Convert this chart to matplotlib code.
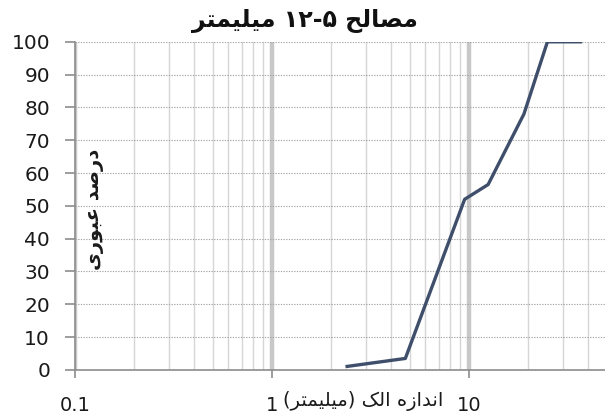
# -*- coding: utf-8 -*-
"""
Grading curve for 5-12 mm aggregate (sieve analysis).
"""

import matplotlib
matplotlib.use("Agg")
import matplotlib.pyplot as plt
from matplotlib.ticker import LogLocator, NullFormatter, FixedLocator

# Sieve sizes (mm) and passing percentage.
sieve_mm = [2.36, 4.75, 9.5, 12.5, 19, 25, 37.5]
passing = [1, 3.5, 52, 56.5, 78, 100, 100]

x_ticks = [0.1, 1, 10]
x_tick_labels = ["0.1", "1", "10"]
y_ticks = [0, 10, 20, 30, 40, 50, 60, 70, 80, 90, 100]

title_txt = "مصالح ۵-۱۲ میلیمتر"
xlabel_txt = "اندازه الک (میلیمتر)"
ylabel_txt = "درصد عبوری"

# matplotlib 3.10 does no arabic shaping, so do it by hand:
# pick presentation forms (isolated, final, initial, medial).
FORMS = {
    "ا": (0xFE8D, 0xFE8E, 0xFE8D, 0xFE8E),
    "ب": (0xFE8F, 0xFE90, 0xFE91, 0xFE92),
    "ت": (0xFE95, 0xFE96, 0xFE97, 0xFE98),
    "ح": (0xFEA1, 0xFEA2, 0xFEA3, 0xFEA4),
    "د": (0xFEA9, 0xFEAA, 0xFEA9, 0xFEAA),
    "ر": (0xFEAD, 0xFEAE, 0xFEAD, 0xFEAE),
    "ز": (0xFEAF, 0xFEB0, 0xFEAF, 0xFEB0),
    "ص": (0xFEB9, 0xFEBA, 0xFEBB, 0xFEBC),
    "ع": (0xFEC9, 0xFECA, 0xFECB, 0xFECC),
    "ل": (0xFEDD, 0xFEDE, 0xFEDF, 0xFEE0),
    "م": (0xFEE1, 0xFEE2, 0xFEE3, 0xFEE4),
    "ن": (0xFEE5, 0xFEE6, 0xFEE7, 0xFEE8),
    "ه": (0xFEE9, 0xFEEA, 0xFEEB, 0xFEEC),
    "و": (0xFEED, 0xFEEE, 0xFEED, 0xFEEE),
    "ی": (0xFEEF, 0xFEF0, 0xFEF3, 0xFEF4),
    "ک": (0xFB8E, 0xFB8F, 0xFB90, 0xFB91),
}
RIGHT_ONLY = set("اآأإدذرزژو")
DIGITS = set("0123456789۰۱۲۳۴۵۶۷۸۹")
MIRROR = {"(": ")", ")": "("}


def rtl(text):
    """Shape a persian string and return it in visual (left to right) order."""
    out = []
    for i, ch in enumerate(text):
        if ch not in FORMS:
            out.append(MIRROR.get(ch, ch))
            continue
        prev = text[i - 1] if i > 0 else ""
        nxt = text[i + 1] if i + 1 < len(text) else ""
        join_prev = prev in FORMS and prev not in RIGHT_ONLY
        join_next = nxt in FORMS and ch not in RIGHT_ONLY
        iso, fin, ini, med = FORMS[ch]
        if join_prev and join_next:
            code = med
        elif join_prev:
            code = fin
        elif join_next:
            code = ini
        else:
            code = iso
        out.append(chr(code))
    out = out[::-1]
    # Numbers keep their left to right order.
    res, run = [], []
    for ch in out:
        if ch in DIGITS:
            run.append(ch)
        else:
            res.extend(run[::-1])
            run = []
            res.append(ch)
    res.extend(run[::-1])
    return "".join(res)


plt.rcParams["font.family"] = ["DejaVu Sans"]

fig = plt.figure(figsize=(6.05, 4.18), dpi=100)
ax = fig.add_axes([0.124, 0.115, 0.876, 0.785])

ax.plot(sieve_mm, passing, color="#3f4f6b", linewidth=2.4,
        solid_capstyle="butt", zorder=5)

ax.set_xscale("log")
ax.set_xlim(0.1, 49)
ax.set_ylim(0, 100)

# Gridlines: thick grey on decades, thin on the minor ones, dotted horizontal.
ax.xaxis.set_major_locator(FixedLocator(x_ticks))
ax.xaxis.set_minor_locator(LogLocator(base=10, subs=range(2, 10)))
ax.xaxis.set_minor_formatter(NullFormatter())
ax.set_xticklabels(x_tick_labels)
ax.set_yticks(y_ticks)
ax.grid(True, which="major", axis="x", color="#c8c8c8", linewidth=3.2)
ax.grid(True, which="minor", axis="x", color="#d6d6d6", linewidth=1.0)
ax.grid(True, which="major", axis="y", color="#a6a6a6", linewidth=0.8,
        linestyle=(0, (1.2, 1.2)))
ax.set_axisbelow(True)

for side in ["top", "right"]:
    ax.spines[side].set_visible(False)
ax.spines["left"].set_color("#8c8c8c")
ax.spines["bottom"].set_color("#8c8c8c")
ax.spines["left"].set_linewidth(1.2)
ax.spines["bottom"].set_linewidth(1.2)

ax.tick_params(axis="x", which="major", length=6, width=1.2, color="#8c8c8c",
               labelsize=14, pad=13, labelcolor="#1a1a1a")
ax.tick_params(axis="x", which="minor", length=0)
ax.tick_params(axis="y", length=7, width=1.2, color="#8c8c8c",
               labelsize=14.5, pad=11, labelcolor="#1a1a1a")

# Title centred on the figure, not on the axes.
fig.text(305 / 605, 1 - 21 / 418, rtl(title_txt), fontsize=17,
         fontweight="bold", ha="center", va="center", color="#111111")

# X label sits on the same row as the tick labels, right of "1".
fig.text(363 / 605, 1 - 401 / 418, rtl(xlabel_txt), fontsize=14,
         ha="center", va="center", color="#1a1a1a")
# Y label inside the plot area.
ax.text(0.037, 0.49, rtl(ylabel_txt), transform=ax.transAxes, rotation=90,
        fontsize=14, fontweight="bold", ha="center", va="center",
        color="#1a1a1a")

plt.savefig("out.png", dpi=100)
